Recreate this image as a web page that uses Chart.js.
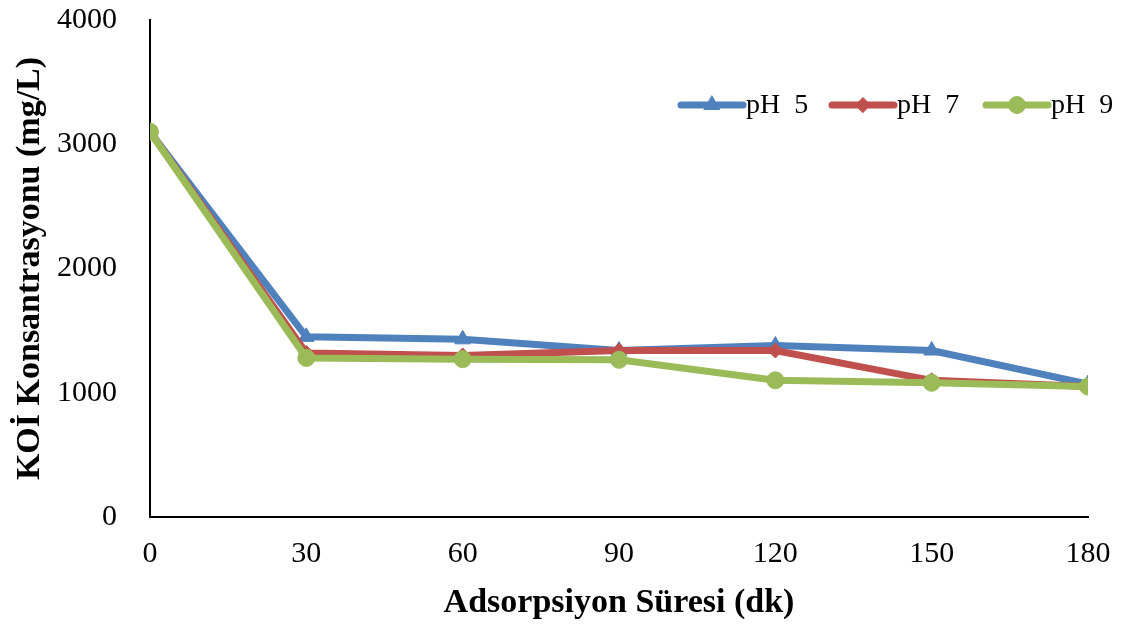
<!DOCTYPE html>
<html>
<head>
<meta charset="utf-8">
<script src="https://cdn.jsdelivr.net/npm/chart.js@4.4.1/dist/chart.umd.min.js"></script>
<style>
  html, body { margin: 0; padding: 0; background: #fff; }
  #wrap { width: 1126px; height: 628px; }
</style>
</head>
<body>
<div id="wrap"><canvas id="c" width="1126" height="628"></canvas></div>
<script>
// Adsorption time (min) and COD concentration (mg/L) per pH
const times = [0, 30, 60, 90, 120, 150, 180];
const ph5 = [3100, 1450, 1430, 1340, 1380, 1340, 1070];
const ph7 = [3100, 1320, 1300, 1340, 1340, 1100, 1050];
const ph9 = [3100, 1280, 1270, 1265, 1100, 1080, 1050];
const seriesNames = ['pH  5', 'pH  7', 'pH  9'];
const yTicks = [0, 1000, 2000, 3000, 4000];

const toXY = arr => arr.map((v, i) => ({ x: times[i], y: v }));
const SERIF = '"Liberation Serif", "Times New Roman", serif';

// Legend drawn inside the plot area, top right
const inlineLegend = {
  id: 'inlineLegend',
  afterDraw(chart) {
    const ctx = chart.ctx;
    const starts = [681, 832, 986];
    const y = 105;
    ctx.save();
    chart.data.datasets.forEach((ds, i) => {
      const x0 = starts[i], x1 = x0 + 62;
      ctx.strokeStyle = ds.borderColor;
      ctx.lineWidth = 7;
      ctx.lineCap = 'round';
      ctx.beginPath(); ctx.moveTo(x0, y); ctx.lineTo(x1, y); ctx.stroke();
      ctx.fillStyle = ds.borderColor;
      ctx.lineWidth = 1;
      Chart.helpers.drawPoint(ctx, {
        pointStyle: ds.pointStyle, radius: ds.pointRadius, rotation: 0, borderWidth: 1
      }, (x0 + x1) / 2, y);
      ctx.fillStyle = '#000';
      ctx.font = '28px ' + SERIF;
      ctx.textBaseline = 'middle';
      ctx.textAlign = 'left';
      ctx.fillText(ds.label, x1 + 3, y + 1);
    });
    ctx.restore();
  }
};

const mk = (label, data, color, style, r, order) => ({
  label, data: toXY(data), borderColor: color, backgroundColor: color,
  borderWidth: 7, pointStyle: style, pointRadius: r, pointHoverRadius: r,
  pointBorderWidth: 1, pointBorderColor: color, pointBackgroundColor: color,
  tension: 0, order
});

new Chart(document.getElementById('c'), {
  type: 'line',
  data: {
    datasets: [
      mk(seriesNames[0], ph5, '#4F81BD', 'triangle', 9, 3),
      mk(seriesNames[1], ph7, '#C0504D', 'rectRot', 7.5, 2),
      mk(seriesNames[2], ph9, '#9BBB59', 'circle', 8.5, 1)
    ]
  },
  options: {
    responsive: false,
    animation: false,
    layout: { padding: { left: 10, right: 0, top: 0, bottom: 0 } },
    plugins: {
      legend: { display: false },
      tooltip: { enabled: false }
    },
    scales: {
      x: {
        type: 'linear', min: 0, max: 180,
        afterBuildTicks: s => { s.ticks = times.map(v => ({ value: v })); },
        afterFit: s => { s.height = 111; s.paddingLeft = 0; s.paddingRight = 38; },
        grid: { display: false, drawTicks: false },
        border: { display: true, color: '#000', width: 2 },
        ticks: { color: '#000', font: { family: SERIF, size: 30, lineHeight: 1 }, padding: 22, maxRotation: 0 },
        title: {
          display: true, text: 'Adsorpsiyon Süresi (dk)', color: '#000',
          font: { family: SERIF, size: 34, weight: 'bold' }, padding: { top: 4, bottom: 4 }
        }
      },
      y: {
        min: 0, max: 4000,
        afterBuildTicks: s => { s.ticks = yTicks.map(v => ({ value: v })); },
        afterFit: s => { s.width = 140; s.paddingTop = 20; s.paddingBottom = 0; },
        grid: { display: false, drawTicks: false },
        border: { display: true, color: '#000', width: 2 },
        ticks: {
          color: '#000', font: { family: SERIF, size: 30, lineHeight: 1 }, padding: 33,
          callback: v => String(v)
        },
        title: {
          display: true, text: 'KOİ Konsantrasyonu (mg/L)', color: '#000',
          font: { family: SERIF, size: 34, weight: 'bold' }, padding: { top: 0, bottom: 0 }
        }
      }
    }
  },
  plugins: [inlineLegend]
});
</script>
</body>
</html>
